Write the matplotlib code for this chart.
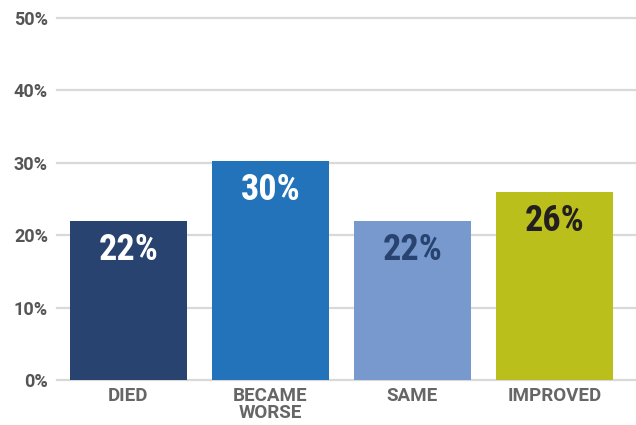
import matplotlib.pyplot as plt

categories = ['DIED', 'BECAME\nWORSE', 'SAME', 'IMPROVED']
values = [22, 30.3, 22, 26]
labels = ['22%', '30%', '22%', '26%']
colors = ['#284370', '#2273BA', '#7799CE', '#BBBF1C']
label_colors = ['white', 'white', '#284370', '#231F20']

fig = plt.figure(figsize=(6.36, 4.25), dpi=100)
ax = fig.add_axes([0.0896, 0.1059, 0.9104, 0.8517])

x = range(len(categories))
ax.bar(x, values, width=0.824, color=colors, zorder=3)
for i, (v, lab) in enumerate(zip(values, labels)):
    ax.text(i, v - 4.0, lab, ha='center', va='center', color=label_colors[i],
            fontsize=26, fontweight='bold', family='Roboto Condensed', zorder=4)

ax.set_xlim(-0.503, 3.574)
ax.set_ylim(0, 50)
ax.set_yticks([0, 10, 20, 30, 40, 50])
ax.set_yticklabels(['0%', '10%', '20%', '30%', '40%', '50%'])
ax.set_xticks(list(x))
ax.set_xticklabels(categories, linespacing=0.9)
ax.yaxis.grid(True, color='#d9d9d9', linewidth=1.6, zorder=0)
for gl in ax.get_ygridlines():
    gl.set_clip_on(False)
ax.set_axisbelow(True)
for s in ax.spines.values():
    s.set_visible(False)
ax.tick_params(axis='both', length=0)
ax.tick_params(axis='y', pad=6.5, labelsize=13, labelcolor='#555555')
ax.tick_params(axis='x', pad=5, labelsize=13.5, labelcolor='#666666')
for t in ax.get_xticklabels() + ax.get_yticklabels():
    t.set_family('Roboto')
    t.set_fontweight('bold')

fig.savefig('out.png', dpi=100)
